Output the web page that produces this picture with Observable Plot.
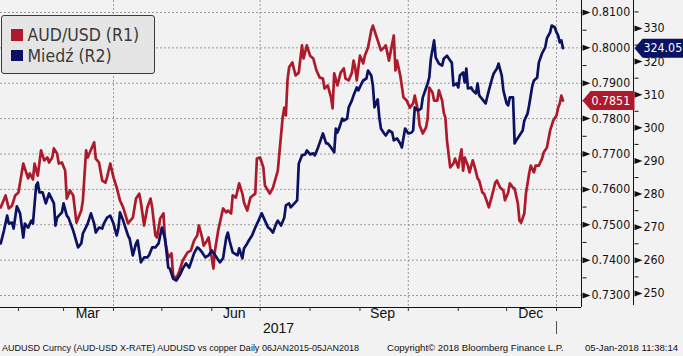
<!DOCTYPE html>
<html>
<head>
<meta charset="utf-8">
<script src="https://cdn.jsdelivr.net/npm/d3@7"></script>
<script src="https://cdn.jsdelivr.net/npm/@observablehq/plot@0.6"></script>
<style>
  html, body { margin: 0; padding: 0; background: #f2f2f2; }
  #wrap { position: relative; width: 683px; height: 356px; overflow: hidden; background: #f2f2f2; }
  .legend { position: absolute; left: 1px; top: 15px; width: 152px; height: 57px; background: #e5e5e5;
            border: 1px solid #3a3a3a; border-radius: 3px;
            font-family: "DejaVu Sans Condensed", "DejaVu Sans", sans-serif; font-stretch: condensed;
            font-size: 17.5px; color: #3a3a3a; }
  .legend .row { position: absolute; left: 9px; height: 20px; line-height: 20px; display: flex; align-items: center; white-space: nowrap; }
  .legend .sw { width: 11.5px; height: 11.5px; margin-right: 5px; }
  #footer { position: absolute; left: 0; top: 340px; width: 683px; height: 16px; line-height: 16px;
            font-family: "Liberation Sans", Arial, sans-serif; color: #111; }
  #footer span { position: absolute; top: 0; white-space: nowrap; }
</style>
</head>
<body>
<div id="wrap">
  <div id="chart"></div>
  <div class="legend" id="legend"></div>
  <div id="footer"></div>
</div>
<script>
// ---------------- data ----------------
const seriesNames = ["AUD/USD (R1)", "Miedź (R2)"];
const seriesColors = ["#ad1a2b", "#0c1262"];

const audusd = [
["2017-01-21",0.7549],["2017-01-24",0.7583],["2017-01-26",0.7546],["2017-01-28",0.7554],["2017-01-30",0.7583],
["2017-02-01",0.7591],["2017-02-04",0.7673],["2017-02-07",0.7631],["2017-02-08",0.7645],["2017-02-10",0.7628],
["2017-02-11",0.7673],["2017-02-13",0.7639],["2017-02-15",0.7710],["2017-02-17",0.7682],["2017-02-19",0.7690],
["2017-02-20",0.7676],["2017-02-22",0.7690],["2017-02-23",0.7716],["2017-02-25",0.7701],["2017-02-26",0.7673],
["2017-02-28",0.7676],["2017-03-02",0.7653],["2017-03-03",0.7574],["2017-03-05",0.7597],["2017-03-07",0.7583],
["2017-03-09",0.7506],["2017-03-12",0.7540],["2017-03-13",0.7569],["2017-03-15",0.7710],["2017-03-16",0.7690],
["2017-03-20",0.7733],["2017-03-21",0.7687],["2017-03-23",0.7676],["2017-03-25",0.7625],["2017-03-27",0.7619],
["2017-03-28",0.7634],["2017-03-30",0.7673],["2017-04-01",0.7634],["2017-04-03",0.7605],["2017-04-05",0.7569],
["2017-04-07",0.7549],["2017-04-10",0.7504],["2017-04-13",0.7520],["2017-04-15",0.7574],["2017-04-17",0.7588],
["2017-04-18",0.7563],["2017-04-20",0.7498],["2017-04-22",0.7549],["2017-04-24",0.7574],["2017-04-25",0.7549],
["2017-04-27",0.7470],["2017-04-28",0.7464],["2017-04-30",0.7518],["2017-05-02",0.7532],["2017-05-03",0.7455],
["2017-05-05",0.7407],["2017-05-07",0.7419],["2017-05-08",0.7357],["2017-05-10",0.7348],["2017-05-12",0.7371],
["2017-05-14",0.7399],["2017-05-17",0.7422],["2017-05-19",0.7427],["2017-05-21",0.7455],["2017-05-23",0.7470],
["2017-05-24",0.7498],["2017-05-26",0.7464],["2017-05-27",0.7441],["2017-05-29",0.7455],["2017-05-30",0.7464],
["2017-05-31",0.7436],["2017-06-02",0.7376],["2017-06-03",0.7427],["2017-06-05",0.7484],["2017-06-08",0.7546],
["2017-06-10",0.7535],["2017-06-11",0.7540],["2017-06-13",0.7532],["2017-06-14",0.7583],["2017-06-16",0.7577],
["2017-06-18",0.7617],["2017-06-20",0.7588],["2017-06-21",0.7563],["2017-06-23",0.7540],["2017-06-25",0.7577],
["2017-06-28",0.7588],["2017-06-29",0.7687],["2017-07-01",0.7690],["2017-07-03",0.7662],["2017-07-04",0.7611],
["2017-07-07",0.7588],["2017-07-09",0.7605],["2017-07-12",0.7653],["2017-07-13",0.7704],["2017-07-15",0.7803],
["2017-07-16",0.7831],["2017-07-17",0.7809],["2017-07-18",0.7908],["2017-07-19",0.7945],["2017-07-21",0.7959],
["2017-07-23",0.7922],["2017-07-25",0.7930],["2017-07-27",0.8007],["2017-07-28",0.7970],["2017-07-30",0.8007],
["2017-08-01",0.7978],["2017-08-03",0.7970],["2017-08-05",0.7936],["2017-08-07",0.7916],["2017-08-09",0.7913],
["2017-08-10",0.7885],["2017-08-12",0.7894],["2017-08-14",0.7860],["2017-08-15",0.7829],["2017-08-16",0.7928],
["2017-08-18",0.7894],["2017-08-20",0.7930],["2017-08-22",0.7942],["2017-08-23",0.7913],["2017-08-25",0.7908],
["2017-08-27",0.7930],["2017-08-28",0.7964],["2017-08-29",0.7945],["2017-08-30",0.7908],["2017-09-01",0.7978],
["2017-09-03",0.7956],["2017-09-04",0.7978],["2017-09-06",0.8001],["2017-09-08",0.8049],["2017-09-09",0.8063],
["2017-09-11",0.8035],["2017-09-12",0.8021],["2017-09-14",0.7993],["2017-09-16",0.8001],["2017-09-17",0.8007],
["2017-09-19",0.7964],["2017-09-21",0.8012],["2017-09-22",0.8035],["2017-09-23",0.7936],["2017-09-24",0.7964],
["2017-09-26",0.7922],["2017-09-28",0.7860],["2017-09-30",0.7851],["2017-10-02",0.7831],["2017-10-04",0.7843],
["2017-10-05",0.7865],["2017-10-07",0.7823],["2017-10-08",0.7781],["2017-10-10",0.7758],["2017-10-12",0.7775],
["2017-10-13",0.7800],["2017-10-14",0.7888],["2017-10-16",0.7874],["2017-10-17",0.7851],["2017-10-19",0.7851],
["2017-10-20",0.7880],["2017-10-22",0.7851],["2017-10-23",0.7817],["2017-10-24",0.7803],["2017-10-25",0.7738],
["2017-10-27",0.7662],["2017-10-29",0.7673],["2017-10-30",0.7687],["2017-11-01",0.7662],["2017-11-02",0.7690],
["2017-11-03",0.7713],["2017-11-04",0.7653],["2017-11-05",0.7690],["2017-11-07",0.7667],["2017-11-08",0.7648],
["2017-11-10",0.7682],["2017-11-11",0.7667],["2017-11-13",0.7631],["2017-11-14",0.7625],["2017-11-16",0.7591],
["2017-11-17",0.7588],["2017-11-19",0.7563],["2017-11-20",0.7549],["2017-11-22",0.7583],["2017-11-24",0.7619],
["2017-11-25",0.7625],["2017-11-27",0.7605],["2017-11-29",0.7597],["2017-11-30",0.7569],["2017-12-02",0.7591],
["2017-12-03",0.7617],["2017-12-05",0.7605],["2017-12-06",0.7602],["2017-12-08",0.7560],["2017-12-09",0.7512],
["2017-12-10",0.7506],["2017-12-12",0.7532],["2017-12-13",0.7588],["2017-12-15",0.7645],["2017-12-16",0.7667],
["2017-12-18",0.7648],["2017-12-19",0.7667],["2017-12-21",0.7667],["2017-12-23",0.7687],["2017-12-24",0.7704],
["2017-12-26",0.7718],["2017-12-28",0.7766],["2017-12-30",0.7795],["2018-01-01",0.7809],["2018-01-02",0.7831],
["2018-01-03",0.7843],["2018-01-04",0.7865],["2018-01-05",0.7851]
];

const copper = [
["2017-01-21",265.1],["2017-01-23",269.0],["2017-01-25",273.5],["2017-01-26",271.1],["2017-01-28",271.4],
["2017-01-29",269.6],["2017-01-31",276.3],["2017-02-02",274.2],["2017-02-04",266.9],["2017-02-05",271.1],
["2017-02-07",269.9],["2017-02-09",272.0],["2017-02-10",271.1],["2017-02-12",282.6],["2017-02-13",283.5],
["2017-02-14",280.5],["2017-02-16",280.5],["2017-02-18",277.2],["2017-02-20",280.2],["2017-02-23",277.2],
["2017-02-24",270.5],["2017-02-25",272.9],["2017-02-28",274.5],["2017-03-01",277.2],["2017-03-03",273.5],
["2017-03-04",272.9],["2017-03-07",269.0],["2017-03-10",263.9],["2017-03-12",265.1],["2017-03-13",268.1],
["2017-03-16",271.1],["2017-03-18",274.2],["2017-03-20",271.1],["2017-03-21",268.4],["2017-03-23",269.9],
["2017-03-25",269.6],["2017-03-26",271.1],["2017-03-28",272.9],["2017-03-30",273.5],["2017-04-01",271.1],
["2017-04-03",267.5],["2017-04-04",269.6],["2017-04-05",274.5],["2017-04-07",272.0],["2017-04-10",267.5],
["2017-04-11",266.6],["2017-04-13",261.5],["2017-04-15",265.1],["2017-04-16",266.0],["2017-04-18",259.4],
["2017-04-20",260.9],["2017-04-22",260.9],["2017-04-23",261.5],["2017-04-25",263.9],["2017-04-27",263.9],
["2017-04-29",265.1],["2017-05-01",269.9],["2017-05-03",266.6],["2017-05-05",257.8],["2017-05-06",257.5],
["2017-05-08",254.5],["2017-05-10",253.9],["2017-05-12",255.4],["2017-05-14",257.5],["2017-05-16",259.1],
["2017-05-18",257.8],["2017-05-21",262.1],["2017-05-23",263.9],["2017-05-24",263.6],["2017-05-26",262.4],
["2017-05-28",260.9],["2017-05-30",261.5],["2017-06-01",263.0],["2017-06-04",260.9],["2017-06-06",259.4],
["2017-06-08",260.6],["2017-06-10",266.9],["2017-06-11",268.4],["2017-06-12",266.0],["2017-06-14",262.4],
["2017-06-17",261.5],["2017-06-18",263.6],["2017-06-20",260.6],["2017-06-21",263.6],["2017-06-23",265.1],
["2017-06-24",266.0],["2017-06-26",267.5],["2017-06-28",269.9],["2017-06-30",272.0],["2017-07-02",274.2],
["2017-07-04",272.0],["2017-07-06",269.9],["2017-07-07",269.6],["2017-07-09",268.4],["2017-07-11",271.1],
["2017-07-12",272.0],["2017-07-14",270.5],["2017-07-16",272.9],["2017-07-17",276.6],["2017-07-19",277.2],
["2017-07-20",276.0],["2017-07-24",278.1],["2017-07-25",289.2],["2017-07-27",291.7],["2017-07-29",292.0],
["2017-07-30",293.2],["2017-08-01",292.0],["2017-08-03",292.3],["2017-08-04",291.7],["2017-08-06",294.1],
["2017-08-09",298.3],["2017-08-11",295.3],["2017-08-12",295.3],["2017-08-14",294.1],["2017-08-16",292.6],
["2017-08-17",299.8],["2017-08-18",298.6],["2017-08-19",299.8],["2017-08-21",302.8],["2017-08-22",302.2],
["2017-08-24",302.8],["2017-08-25",306.2],["2017-08-27",308.3],["2017-08-28",309.8],["2017-08-30",312.2],
["2017-08-31",311.3],["2017-09-02",313.4],["2017-09-03",314.3],["2017-09-05",314.9],["2017-09-06",317.3],
["2017-09-08",315.8],["2017-09-09",312.8],["2017-09-10",306.2],["2017-09-12",308.6],["2017-09-13",303.1],
["2017-09-14",299.8],["2017-09-16",298.3],["2017-09-17",297.7],["2017-09-19",299.2],["2017-09-21",298.6],
["2017-09-22",296.2],["2017-09-24",296.8],["2017-09-26",295.3],["2017-09-27",294.1],["2017-09-29",299.8],
["2017-10-01",298.3],["2017-10-03",298.6],["2017-10-04",299.2],["2017-10-05",306.2],["2017-10-07",305.2],
["2017-10-09",305.8],["2017-10-10",309.2],["2017-10-13",313.4],["2017-10-14",315.2],["2017-10-15",320.9],
["2017-10-17",326.4],["2017-10-18",321.2],["2017-10-20",319.4],["2017-10-22",318.8],["2017-10-23",320.9],
["2017-10-25",321.8],["2017-10-27",320.3],["2017-10-28",319.7],["2017-10-29",312.8],["2017-10-31",313.4],
["2017-11-01",312.2],["2017-11-02",315.8],["2017-11-04",316.7],["2017-11-05",313.7],["2017-11-06",317.9],
["2017-11-07",311.9],["2017-11-09",312.2],["2017-11-10",311.3],["2017-11-12",310.4],["2017-11-13",313.4],
["2017-11-14",309.8],["2017-11-16",308.6],["2017-11-18",307.4],["2017-11-20",311.3],["2017-11-22",314.9],
["2017-11-23",316.4],["2017-11-25",317.9],["2017-11-26",319.4],["2017-11-28",315.8],["2017-11-29",311.3],
["2017-12-01",307.4],["2017-12-02",306.8],["2017-12-03",309.2],["2017-12-05",309.2],["2017-12-06",295.3],
["2017-12-07",296.2],["2017-12-09",297.7],["2017-12-11",299.2],["2017-12-12",302.2],["2017-12-14",304.3],
["2017-12-15",306.8],["2017-12-17",312.8],["2017-12-18",314.3],["2017-12-20",315.2],["2017-12-21",319.7],
["2017-12-23",322.5],["2017-12-25",324.3],["2017-12-26",327.0],["2017-12-28",328.8],["2017-12-29",330.9],
["2017-12-31",330.3],["2018-01-01",328.8],["2018-01-02",327.9],["2018-01-03",325.8],["2018-01-04",326.4],
["2018-01-05",324.05]
];

// axes
const xDomain = ["2017-01-20T20:38:00Z", "2018-01-16T12:00:00Z"];
const r1Domain = [0.72661, 0.81339];
const r2Domain = [245.77, 338.45];
const r1Ticks = [0.73, 0.74, 0.75, 0.76, 0.77, 0.78, 0.79, 0.80, 0.81];
const r1Minor = [0.735, 0.745, 0.755, 0.765, 0.775, 0.785, 0.795, 0.805];
const r2Ticks = [250, 260, 270, 280, 290, 300, 310, 320, 330];
const r2Minor = [255, 265, 275, 285, 295, 305, 315, 325, 335];
const monthStarts = ["2017-02-01","2017-03-01","2017-04-01","2017-05-01","2017-06-01","2017-07-01",
                     "2017-08-01","2017-09-01","2017-10-01","2017-11-01","2017-12-01","2018-01-01"];
const gridDates = ["2017-04-01","2017-07-01","2017-10-01","2018-01-01"];
const monthLabels = [["2017-03-16","Mar"],["2017-06-15","Jun"],["2017-09-15","Sep"],["2017-12-16","Dec"]];
const yearStart = "2018-01-01";
const yearLabel = "2017";
const footerTexts = ["AUDUSD Curncy (AUD-USD X-RATE) AUDUSD vs copper  Daily 06JAN2015-05JAN2018",
                     "Copyright© 2018 Bloomberg Finance L.P.",
                     "05-Jan-2018 11:38:14"];

// ---------------- chart ----------------
const parse = s => new Date(s.length > 10 ? s : s + "T00:00:00Z");
const [red, navy] = seriesColors;
const toR1 = d3.scaleLinear().domain(r2Domain).range(r1Domain);
const xd = xDomain.map(parse);
const yearMid = new Date((xd[0].getTime() + parse(yearStart).getTime()) / 2);
const audLast = audusd[audusd.length - 1];
const cuLast = copper[copper.length - 1];

const arrowSym = {draw(c) { c.moveTo(0, -3); c.lineTo(8, 0); c.lineTo(0, 3); c.closePath(); }};
const minorSym = {draw(c) { c.moveTo(0, 0); c.lineTo(4, 0); }};
const tagSym = w => ({draw(c) { c.moveTo(0, 0); c.lineTo(8, -9.5); c.lineTo(w, -9.5); c.lineTo(w, 9.5); c.lineTo(8, 9.5); c.closePath(); }});

const axisFont = "'DejaVu Sans Condensed', 'DejaVu Sans', sans-serif";
const narrowFont = "'Liberation Sans Narrow', 'Arial Narrow', 'Liberation Sans', sans-serif";

const chart = Plot.plot({
  width: 683, height: 340,
  marginTop: 0, marginLeft: 0, marginRight: 102, marginBottom: 33,
  style: {background: "#f2f2f2", color: "#111", fontFamily: axisFont, fontStretch: "condensed", overflow: "visible"},
  x: {type: "utc", domain: xd, axis: null},
  y: {domain: r1Domain, axis: null},
  marks: [
    Plot.gridY({ticks: r1Ticks, stroke: "#9a9a9a", strokeOpacity: 1, strokeDasharray: "2,2"}),
    Plot.gridX({ticks: gridDates.map(parse), stroke: "#9a9a9a", strokeOpacity: 1, strokeDasharray: "2,2"}),
    Plot.line(audusd, {x: d => parse(d[0]), y: d => d[1], stroke: red, strokeWidth: 2.7, strokeLinejoin: "round", clip: true}),
    Plot.line(copper, {x: d => parse(d[0]), y: d => toR1(d[1]), stroke: navy, strokeWidth: 2.7, strokeLinejoin: "round", clip: true}),
    Plot.ruleY([r1Domain[0]], {stroke: "#111"}),
    Plot.ruleX([xd[1]], {stroke: "#111"}),
    Plot.ruleX([xd[1]], {dx: 52, insetBottom: 2, stroke: "#111"}),
    // R1 axis
    Plot.dot(r1Ticks, {y: d => d, frameAnchor: "right", dx: 1, symbol: arrowSym, fill: "#111", stroke: "none"}),
    Plot.dot(r1Minor, {y: d => d, frameAnchor: "right", dx: 1, symbol: minorSym, fill: "none", stroke: "#111", strokeWidth: 1}),
    Plot.text(r1Ticks, {y: d => d, frameAnchor: "right", dx: 10, textAnchor: "start", text: d => d3.format(".4f")(d), fontSize: 12.3, fill: "#111"}),
    // R2 axis
    Plot.dot(r2Ticks, {y: d => toR1(d), frameAnchor: "right", dx: 53, symbol: arrowSym, fill: "#111", stroke: "none"}),
    Plot.dot(r2Minor, {y: d => toR1(d), frameAnchor: "right", dx: 53, symbol: minorSym, fill: "none", stroke: "#111", strokeWidth: 1}),
    Plot.text(r2Ticks, {y: d => toR1(d), frameAnchor: "right", dx: 62, textAnchor: "start", text: d => String(d), fontSize: 12.3, fill: "#111"}),
    // last-value tags
    Plot.dot([audLast], {y: d => d[1], frameAnchor: "right", dx: 1, symbol: tagSym(52), fill: red, stroke: "none"}),
    Plot.text([audLast], {y: d => d[1], frameAnchor: "right", dx: 10, textAnchor: "start", text: d => d3.format(".4f")(d[1]), fill: "white", fontSize: 12.3}),
    Plot.dot([cuLast], {y: d => toR1(d[1]), frameAnchor: "right", dx: 53, symbol: tagSym(52), fill: navy, stroke: "none"}),
    Plot.text([cuLast], {y: d => toR1(d[1]), frameAnchor: "right", dx: 62, textAnchor: "start", text: d => d3.format(".2f")(d[1]), fill: "white", fontSize: 12.3}),
    // x axis
    Plot.ruleX(monthStarts.map(parse), {insetTop: 303, dy: 4, stroke: "#333"}),
    Plot.ruleX([parse(yearStart)], {insetTop: 294, dy: 27, stroke: "#555"}),
    Plot.text(monthLabels, {x: d => parse(d[0]), frameAnchor: "bottom", dy: 10, text: d => d[1], fontSize: 14, fontFamily: narrowFont, fontStretch: "normal", fill: "#111"}),
    Plot.text([yearLabel], {x: () => yearMid, frameAnchor: "bottom", dy: 25, text: d => d, fontSize: 14, fontFamily: narrowFont, fontStretch: "normal", fill: "#111"})
  ]
});
document.getElementById("chart").appendChild(chart);

// legend
const legend = document.getElementById("legend");
seriesNames.forEach((name, i) => {
  const row = document.createElement("div");
  row.className = "row";
  row.style.top = (9 + i * 20.5) + "px";
  const sw = document.createElement("span");
  sw.className = "sw";
  sw.style.background = seriesColors[i];
  const tx = document.createElement("span");
  tx.textContent = name;
  row.appendChild(sw); row.appendChild(tx);
  legend.appendChild(row);
});

// footer
const footer = document.getElementById("footer");
const footerLeft = [2, 387, 585];
const footerSize = [9, 9.6, 9.6];
footerTexts.forEach((t, i) => {
  const s = document.createElement("span");
  s.textContent = t;
  s.style.left = footerLeft[i] + "px";
  s.style.fontSize = footerSize[i] + "px";
  footer.appendChild(s);
});
</script>
</body>
</html>
